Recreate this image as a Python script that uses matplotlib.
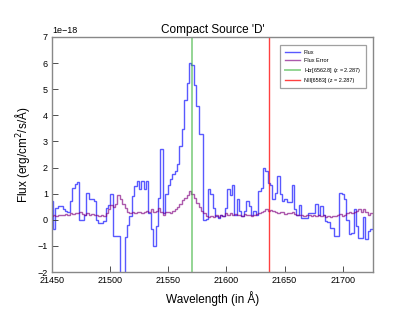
import numpy as np
import matplotlib
matplotlib.use("Agg")
import matplotlib.pyplot as plt

plt.rcParams["font.family"] = ["Liberation Sans", "DejaVu Sans"]

# redshift and rest-frame lines
z = 2.2868
ha_rest = 6562.8
nii_rest = 6583.0

# wavelength grid (left bin edge and bin width, in Angstrom)
wave_start = 21448.9
bin_width = 2.05

# flux per bin, units of 1e-18 erg/cm^2/s/A
flux = [
    0.72, -0.37, 0.46, 0.52, 0.54, 0.42, 0.33, 0.30, 0.72, 1.23,
    1.36, 1.44, 0.00, 0.00, 0.20, 1.04, 0.80, 0.78, 0.72, 0.00,
    -0.12, -0.12, -0.05, 0.46, 0.55, 0.97, -0.62, -0.62, -0.62, -3.00,
    -3.00, -0.65, -0.20, 0.14, 0.90, 1.30, 1.48, 1.16, 1.48, 1.16,
    1.48, 0.25, -0.35, -1.00, -0.25, 0.85, 2.70, 0.25, 1.00, 1.35,
    1.55, 1.74, 1.86, 2.12, 2.82, 3.46, 4.60, 5.25, 6.02, 5.92,
    5.15, 4.35, 3.30, 3.30, 0.00, 0.02, 1.19, 0.97, 0.46, 0.14,
    0.08, 0.20, 0.14, 0.46, 1.16, 0.95, 1.35, 0.20, 0.78, 0.33,
    0.14, 0.33, 0.72, 0.52, 0.20, 0.33, 0.20, 1.10, 1.23, 2.00,
    1.86, 1.42, 1.35, 0.78, 1.03, 1.67, 1.00, 0.72, 0.78, 0.68,
    0.68, 1.35, 0.40, 0.20, 0.55, 0.08, 0.08, 0.08, 0.27, 0.27,
    0.27, 0.59, 0.20, 0.52, 0.20, -0.05, -0.10, -0.30, -0.30, -0.63,
    -0.63, 1.03, 1.00, 0.78, 0.00, -0.55, -0.50, 0.40, -0.24, -0.69,
    -0.69, 0.10, -0.75, -0.43, -0.37, 0.20,
]

flux_err = [
    0.15, 0.18, 0.15, 0.20, 0.17, 0.20, 0.22, 0.20, 0.25, 0.22,
    0.27, 0.25, 0.30, 0.22, 0.20, 0.25, 0.20, 0.22, 0.18, 0.20,
    0.15, 0.20, 0.15, 0.25, 0.40, 0.55, 0.50, 0.60, 0.95, 0.80,
    0.60, 0.45, 0.30, 0.25, 0.30, 0.25, 0.28, 0.30, 0.25, 0.30,
    0.35, 0.30, 0.40, 0.30, 0.35, 0.45, 0.30, 0.20, 0.30, 0.30,
    0.25, 0.35, 0.40, 0.50, 0.60, 0.75, 0.85, 0.95, 1.10, 1.00,
    0.85, 0.65, 0.50, 0.35, 0.25, 0.15, 0.10, 0.15, 0.10, 0.18,
    0.12, 0.20, 0.15, 0.25, 0.20, 0.25, 0.20, 0.22, 0.18, 0.20,
    0.15, 0.22, 0.18, 0.20, 0.15, 0.20, 0.22, 0.25, 0.30, 0.35,
    0.40, 0.35, 0.38, 0.32, 0.30, 0.25, 0.30, 0.28, 0.22, 0.25,
    0.25, 0.30, 0.22, 0.20, 0.18, 0.20, 0.15, 0.18, 0.20, 0.15,
    0.20, 0.15, 0.18, 0.15, 0.18, 0.12, 0.15, 0.10, 0.15, 0.15,
    0.20, 0.22, 0.15, 0.20, 0.25, 0.30, 0.25, 0.30, 0.35, 0.40,
    0.30, 0.42, 0.30, 0.20, 0.25, 0.22,
]


def main() -> None:
    edges = wave_start + bin_width * np.arange(len(flux) + 1)
    scale = 1e-18

    fig = plt.figure(figsize=(4.15, 3.12), dpi=100)
    ax = fig.add_axes([52 / 415, 1 - 272 / 312, 321 / 415, 235 / 312])

    ax.stairs(np.array(flux) * scale, edges, color="blue", alpha=0.65, lw=1.0, label="Flux")
    ax.stairs(np.array(flux_err) * scale, edges, color="purple", alpha=0.65, lw=1.0,
              label="Flux Error")
    ax.axvline(ha_rest * (1 + z), color="#3cb43c", alpha=0.55, lw=1.4,
               label=f"H$\\alpha$[6562.8] (z = {z:.3f})")
    ax.axvline(nii_rest * (1 + z), color="red", alpha=0.75, lw=1.0,
               label=f"NII[6583] (z = {z:.3f})")

    ax.set_xlim(21450, 21726)
    ax.set_ylim(-2e-18, 7e-18)
    ax.set_yticks(np.arange(-2, 8) * scale)
    ax.set_xticks(np.arange(21450, 21726, 50))

    ax.tick_params(direction="in", labelsize=6.5, length=4, width=0.6, color="#333333", pad=3)
    ax.yaxis.get_offset_text().set_fontsize(6.5)
    for spine in ax.spines.values():
        spine.set_color("#888888")
        spine.set_linewidth(1.0)

    ax.set_title("Compact Source 'D'", fontsize=8.5, pad=3)
    ax.set_xlabel("Wavelength (in Å)", fontsize=8.5, labelpad=4)
    ax.set_ylabel("Flux (erg/cm$^2$/s/Å)", fontsize=8.5, labelpad=4)

    leg = ax.legend(loc="upper right", fontsize=4, frameon=True, borderpad=0.9,
                    labelspacing=0.55, handlelength=2.6, handletextpad=0.7,
                    borderaxespad=0, bbox_to_anchor=(0.978, 0.966), fancybox=False)
    leg.get_frame().set_edgecolor("#888888")
    leg.get_frame().set_linewidth(0.9)

    fig.savefig("out.png", dpi=100)


if __name__ == "__main__":
    main()
